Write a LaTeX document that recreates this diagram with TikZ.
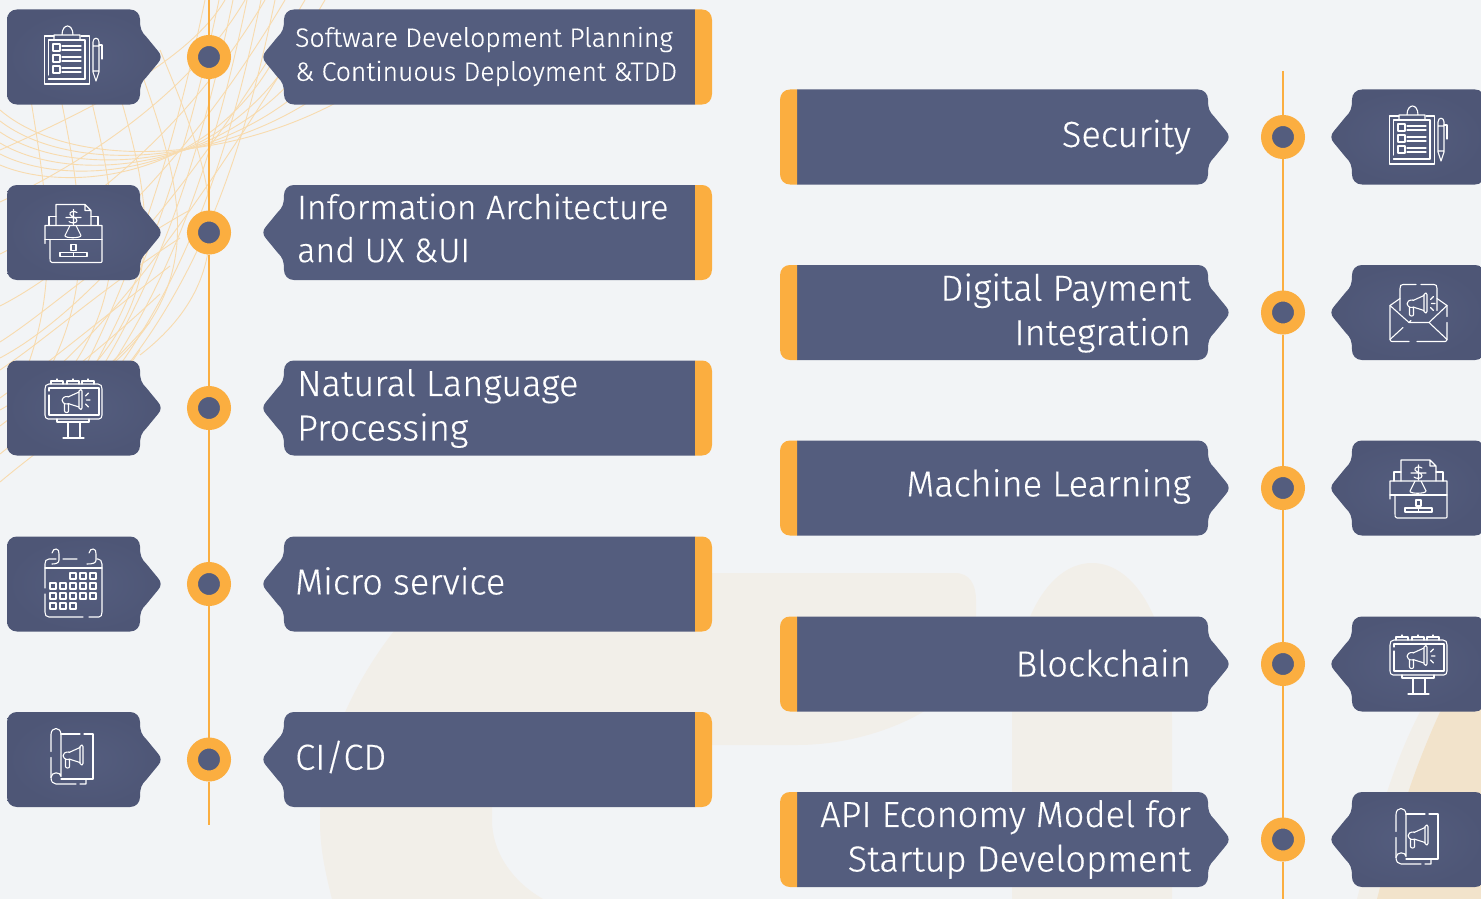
\documentclass[tikz,border=0pt]{standalone}
\usepackage{fontspec}
\setmainfont{Fira Sans Light}[FakeBold=0.35]
\usepackage{tikz}
\usetikzlibrary{positioning, calc}
\definecolor{tagblue}{HTML}{545D7E}
\definecolor{tagedge}{HTML}{4E5676}
\definecolor{taborange}{HTML}{FBAE40}
\definecolor{pagebg}{HTML}{F2F4F6}
\definecolor{ghost}{HTML}{F2EFE9}
\definecolor{peach}{HTML}{F2E3CB}
\definecolor{meshc}{HTML}{F8DBAE}
\tikzset{
	iconline/.style={draw=white, line width=1.1pt, line cap=round, line join=round},
	iconbg/.style={inner color=tagblue, outer color=tagedge},
	labelbg/.style={fill=tagblue},
	hub/.style={circle, draw=taborange, line width=11pt, fill=tagblue, minimum size=33pt, inner sep=0pt},
	spine/.style={draw=taborange, line width=2.6pt},
	mesh/.style={draw=meshc, line width=0.9pt},
	smalltext/.style={font=\fontsize{26.5}{34}\selectfont, text=white, inner sep=0pt},
	midtext/.style={font=\fontsize{34}{43}\selectfont, text=white, inner sep=0pt},
	bigtext/.style={font=\fontsize{36.2}{44.5}\selectfont, text=white, inner sep=0pt},
	% body of a tag, its point to the right of the origin
	arrowtag/.pic={\path[pic actions] (-10,-47.5) .. controls (-4,-47.5) and (0,-43) .. (0,-37.5)
		.. controls (0,-28) and (1.5,-25) .. (6.5,-20) -- (18,-6)
		.. controls (21.5,-2.5) and (21.5,2.5) .. (18,6) -- (6.5,20)
		.. controls (1.5,25) and (0,28) .. (0,37.5) .. controls (0,43) and (-4,47.5) .. (-10,47.5)
		-- (-123,47.5) .. controls (-129,47.5) and (-133,43) .. (-133,37.5)
		-- (-133,-37.5) .. controls (-133,-43) and (-129,-47.5) .. (-123,-47.5) -- cycle;},
	widetag/.pic={\path[pic actions] (-10,-47.5) .. controls (-4,-47.5) and (0,-43) .. (0,-37.5)
		.. controls (0,-28) and (1.5,-25) .. (6.5,-20) -- (18,-6)
		.. controls (21.5,-2.5) and (21.5,2.5) .. (18,6) -- (6.5,20)
		.. controls (1.5,25) and (0,28) .. (0,37.5) .. controls (0,43) and (-4,47.5) .. (-10,47.5)
		-- (-411,47.5) -- (-411,-47.5) -- cycle;},
	endtab/.pic={\fill[taborange] (-7,-47.5) -- (-7,47.5) -- (0,47.5) .. controls (6,47.5) and (10,43) .. (10,37)
		-- (10,-37) .. controls (10,-43) and (6,-47.5) .. (0,-47.5) -- cycle;},
	megaphone/.pic={
		\draw[iconline] (-4,-3) -- (7,-8) (7,7) -- (-4,3.5) (-4,-3.5) .. controls (-12,-4) and (-12,4.5) .. (-4,4);
		\draw[iconline] (7,-9) .. controls (8,-11) and (10,-11) .. (10,-9) -- (10,8) .. controls (10,10) and (8,10) .. (7,8) -- cycle;
		\draw[iconline] (-7.5,4) -- (-7.5,11) .. controls (-7.5,13) and (-3,13) .. (-3.5,11) -- (-3.5,4);},
	rays/.pic={\draw[iconline] (13.5,-4) -- (16.5,-7) (14.5,0) -- (18,0) (13.5,4) -- (16.5,7);},
	clipboard/.pic={
		\draw[iconline] (-28.5,-21) -- (-28.5,27) -- (16.5,27) -- (16.5,-21) -- (8,-21) (-19,-21) -- (-28.5,-21);
		\draw[iconline] (-24.5,-17) -- (-24.5,18) (-24.5,22) -- (12,22) -- (12,-17) -- (-24.5,-17);
		\draw[iconline] (-19,-17) -- (-19,-22) -- (7,-22) -- (7,-17) (-11,-22) .. controls (-11,-34) and (0,-34) .. (0,-22);
		\foreach \b in {-13,-2,9} {
			\draw[iconline] (-20,\b) rectangle (-13,\b+7);
			\draw[iconline] (-11,\b+2) -- (8,\b+2) (-11,\b+6) -- (8,\b+6);
		}
		\draw[iconline] (20,-15) .. controls (20,-20) and (26,-20) .. (26,-15) -- (26,15) -- (23,24) -- (20,15) -- cycle (20,-11) -- (26,-11) (20,14) -- (26,14);
		\draw[iconline] (26,-12) -- (29,-12) -- (29,2);},
	drawer/.pic={
		\draw[iconline] (-17,-7) -- (-17,-28) -- (12,-28) -- (18,-22) -- (18,-7) (12,-28) -- (12,-22) -- (18,-22);
		\draw[iconline] (-17,-16) -- (-24,-16) -- (-24,-7) (18,-16) -- (25,-16) -- (25,-7);
		\draw[iconline] (-28,11) -- (-28,-7) -- (29,-7) -- (29,29) .. controls (29,30) and (28,30) .. (27,30) -- (-21,30) .. controls (-23,30) and (-23,28) .. (-23,26) -- (-23,7);
		\draw[iconline] (-28,7) -- (29,7);
		\draw[iconline] (-13,20) rectangle (14,24);
		\draw[iconline] (-2,12) rectangle (3,18) (0.5,20) -- (0.5,24);
		\draw[iconline] (-3,-7) -- (-8,3) .. controls (-9,6) and (8,6) .. (8,3) -- (3,-7);
		\draw[iconline] (-7,-15) -- (8,-15) (4,-20) .. controls (1,-22) and (-4,-21) .. (-3,-18) .. controls (-2,-16) and (4,-15) .. (4,-12) .. controls (4,-9) and (-2,-9) .. (-4,-11) (0.5,-23) -- (0.5,-8);},
	billboard/.pic={
		\draw[iconline] (-28,-19) .. controls (-28,-22) and (-27,-24) .. (-24,-24) -- (25,-24) .. controls (28,-24) and (29,-22) .. (29,-19)
			-- (29,7) .. controls (29,9) and (28,11) .. (26,11) -- (-25,11) .. controls (-27,11) and (-28,9) .. (-28,7) -- cycle;
		\draw[iconline] (-24,-13) -- (-24,7) -- (26,7) -- (26,-20) -- (-24,-20) -- (-24,-17);
		\foreach \p in {-16,0,15} {\draw[iconline] (\p-6,-24) -- (\p-6,-27) -- (\p+6,-27) -- (\p+6,-24) (\p,-27) -- (\p,-29);}
		\draw[iconline] (-16,11) -- (-16,14) -- (16,14) -- (16,11);
		\draw[iconline] (-5,14) -- (-5,30) (7,14) -- (7,30) (-10,30) -- (11,30);
		\path (-1,-8) pic {megaphone} pic {rays};},
	calendar/.pic={
		\draw[iconline] (-28,10) -- (-28,28) .. controls (-28,31) and (-27,33) .. (-24,33) -- (10,33) (16,33) -- (26,33) .. controls (28,33) and (29,31) .. (29,28) -- (29,-20)
			.. controls (29,-23) and (27,-25) .. (25,-25) -- (24,-25) (4,-25) -- (-10,-25) (-17,-25) -- (-24,-25) .. controls (-27,-25) and (-28,-23) .. (-28,-20) -- (-28,4);
		\draw[iconline] (-28,-16) -- (29,-16);
		\draw[iconline] (-21,-31) .. controls (-20,-37) and (-13,-36) .. (-14,-30) -- (-14,-24) .. controls (-14,-21) and (-17,-20) .. (-21,-20);
		\draw[iconline] (16,-31) .. controls (17,-37) and (24,-36) .. (23,-30) -- (23,-24) .. controls (23,-21) and (20,-20) .. (14,-20);
		\foreach \c/\r in {0/-8,10/-8,20/-8,-20/2,-10/2,0/2,10/2,20/2,-20/12,-10/12,0/12,10/12,20/12,-20/22,-10/22,0/22}
			{\draw[iconline] (\c-3,\r-3) rectangle (\c+3,\r+3);}},
	scroll/.pic={
		\draw[iconline] (-12,-25.5) -- (7,-25.5) (11,-25.5) -- (20,-25.5) -- (20,19.5) -- (-12,19.5);
		\draw[iconline] (-12,-25) .. controls (-12,-33) and (-22,-33) .. (-22,-25) -- (-22,-8) (-22,-2) -- (-22,18);
		\draw[iconline] (-12,-25) -- (-12,17) .. controls (-12,12) and (-22,12) .. (-22,18) .. controls (-22,22) and (-20,24.5) .. (-17,24.5) -- (3,24.5) (7,24.5) -- (13,24.5) -- (13,19.5);
		\path (0,-4) pic {megaphone};},
	envelope/.pic={
		\draw[iconline] (-28,-7) -- (-28,27) .. controls (-28,28) and (-27,29) .. (-26,29) -- (-9,29) (-1,29) -- (27,29) .. controls (28,29) and (29,28) .. (29,27) -- (29,10) (29,4) -- (29,-7);
		\draw[iconline] (-28,-7) -- (-18,-14) (19,-14) -- (29,-7) -- (11,10) -- (-9,10) -- (-28,-7);
		\draw[iconline] (-18,-2) -- (-18,-24) .. controls (-18,-27) and (-17,-28) .. (-15,-28) -- (-2,-28) (3,-28) -- (16,-28) .. controls (18,-28) and (19,-27) .. (19,-24) -- (19,-2);
		\draw[iconline] (11,10) -- (29,27) (-28,27) -- (-15,15) (-7,8) -- (-9,10);
		\path (-1,-9) pic {megaphone} pic {rays};},
}
\begin{document}
\begin{tikzpicture}[x=1pt, y=-1pt]
	\useasboundingbox (0,0) rectangle (1481,899);
	\clip (0,0) rectangle (1481,899);
	\fill[pagebg] (0,0) rectangle (1481,899);
	% faint shapes behind everything
	\fill[ghost] (332,899) .. controls (322,860) and (320,840) .. (320,820) .. controls (320,740) and (370,640) .. (450,573)
		-- (955,573) .. controls (970,573) and (976,585) .. (976,600) -- (976,640) .. controls (976,700) and (880,745) .. (797,745)
		-- (492,745) -- (492,820) .. controls (492,850) and (510,880) .. (543,899) -- cycle;
	\fill[ghost] (1012,899) -- (1012,720) .. controls (1012,620) and (1050,563) .. (1092,563) .. controls (1134,563) and (1172,620) .. (1172,720) -- (1172,899) -- cycle;
	\fill[ghost] (1357,899) .. controls (1380,810) and (1395,760) .. (1420,712) -- (1481,690) -- (1481,899) -- cycle;
	\fill[peach] (1377,899) .. controls (1400,810) and (1418,760) .. (1440,712) -- (1481,690) -- (1481,899) -- cycle;
	% the net in the corner
	\foreach \s in {0,...,5} {
		\draw[mesh] (0,{110+\s*11}) .. controls (70,{170+\s*5}) and (230,{165+\s*3}) .. ({350-\s*12},{95-\s*14});
		\draw[mesh] (0,{150+\s*52}) .. controls (90,{110+\s*50}) and ({190+\s*2},{60+\s*30}) .. ({225+\s*20},0);
		\draw[mesh] ({20+\s*28},{30+\s*4}) .. controls ({40+\s*34},170) and ({70+\s*36},270) .. ({20+\s*24},{385-\s*6});
		\draw[mesh] ({275-\s*14},0) .. controls ({250-\s*14},120) and ({215-\s*14},250) .. ({130-\s*10},{362+\s*3});
		\draw[mesh] (0,{482-\s*28}) .. controls (50,{440-\s*26}) and (100,{410-\s*30}) .. ({140+\s*10},{350-\s*28});
	}
	% left column
	\coordinate (ltop) at (209,0);
	\coordinate (lend) at (209,825);
	\coordinate (rtop) at (1283,71);
	\coordinate (rend) at (1283,899);
	\foreach \n/\y in {1/57,2/232.5,3/408,4/584,5/759.5} {
		\node[hub] (lhub\n) at (209,\y) {};
	}
	\foreach \n/\y in {1/137,2/312.5,3/488,4/664,5/839.5} {
		\node[hub] (rhub\n) at (1283,\y) {};
	}
	\draw[spine] (ltop) -- (lhub1) -- (lhub2) -- (lhub3) -- (lhub4) -- (lhub5) -- (lend);
	\draw[spine] (rtop) -- (rhub1) -- (rhub2) -- (rhub3) -- (rhub4) -- (rhub5) -- (rend);
	\foreach \n/\y/\ty/\lx/\ic/\sty/\txt in {
		1/57/56.5/295/clipboard/smalltext/{Software Development Planning\\\& Continuous Deployment \&TDD},
		2/232.5/228/297/drawer/midtext/{Information Architecture\\and UX \&UI},
		3/408/408.5/297/billboard/bigtext/{Natural Language\\Processing},
		4/584/581/295/calendar/bigtext/{Micro service},
		5/759.5/757/295/scroll/bigtext/{CI/CD}} {
		\path pic[iconbg] at (140,\y) {arrowtag};
		\path pic at (73,\y) {\ic};
		\path pic[labelbg, xscale=-1] at (284,\y) {widetag};
		\path pic at (702,\y) {endtab};
		\node[\sty, anchor=west, align=left] (ltext\n) at (\lx,\ty) {\txt};
	}
	% right column
	\foreach \n/\y/\ty/\ic/\txt in {
		1/137/137/clipboard/{Security},
		2/312.5/313/envelope/{Digital Payment\\Integration},
		3/488/486.5/drawer/{Machine Learning},
		4/664/663/billboard/{Blockchain},
		5/839.5/839.5/scroll/{API Economy Model for\\Startup Development}} {
		\path pic[iconbg, xscale=-1] at (1352,\y) {arrowtag};
		\path pic at (1418,\y) {\ic};
		\path pic[labelbg] at (1208,\y) {widetag};
		\path pic[xscale=-1] at (790,\y) {endtab};
		\node[bigtext, anchor=east, align=right] (rtext\n) at (1191,\ty) {\txt};
	}
\end{tikzpicture}
\end{document}
